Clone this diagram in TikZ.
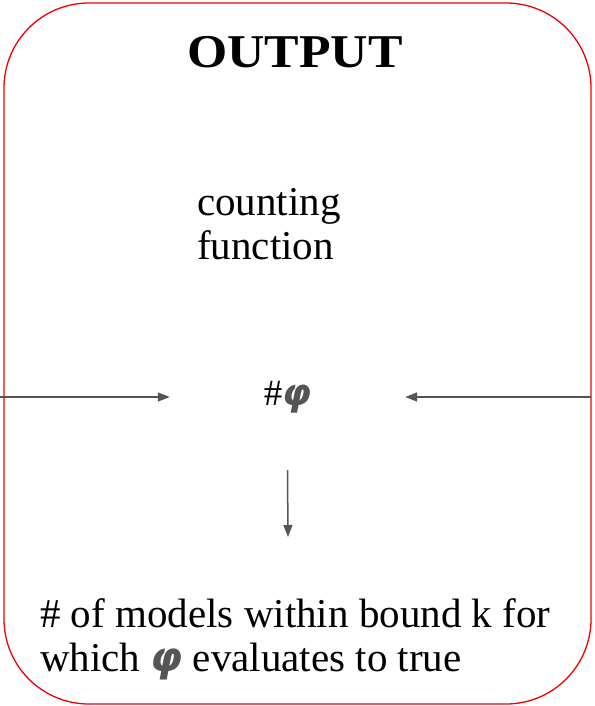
\documentclass[tikz,border=0pt]{standalone}
\usepackage{fontspec}
\setmainfont{Liberation Serif}
\newfontfamily\phifont{DejaVu Sans}
\newfontfamily\ttlfont[FakeStretch=1.1]{Liberation Serif}
\usepackage{tikz}
\usetikzlibrary{arrows.meta,positioning}
\definecolor{cFrame}{HTML}{F00000}
\definecolor{cArrow}{HTML}{555555}
\newcommand{\bphi}{{\phifont\bfseries\itshape\color{cArrow}φ}}
\tikzset{
  frame/.style ={draw=cFrame, line width=1.3pt, rounded corners=85pt},
  title/.style ={font=\ttlfont\fontsize{47}{52}\selectfont\bfseries, inner sep=0pt},
  txt/.style   ={font=\fontsize{41}{44}\selectfont, align=left, inner sep=0pt},
  hub/.style   ={font=\fontsize{37}{40}\selectfont, minimum width=235pt, minimum height=146pt, inner sep=0pt},
  fl/.style    ={-{Triangle[length=12pt,width=9pt]}, draw=cArrow, line width=1.5pt},
}
\begin{document}
\begin{tikzpicture}[x=1pt,y=-1pt]
  \useasboundingbox (0,0) rectangle (594,706);
  \draw[frame] (4,3) rectangle (591,704);
  \node[title] (ttl) at (295,52) {OUTPUT};
  \node[txt,anchor=west] (cnt) at (197,224) {counting\\function};
  \node[hub] (phi) at (287.5,397) {\#\bphi};
  \node[txt,anchor=west] (res) at (40,639) {\# of models within bound k for\\which \bphi{} evaluates to true};
  \coordinate (inL) at (0,397);
  \coordinate (inR) at (591,397);
  \coordinate (outA) at (288,537);
  \draw[fl] (inL)--(phi.west);
  \draw[fl] (inR)--(phi.east);
  \draw[fl] (phi.south)--(outA);
\end{tikzpicture}
\end{document}
